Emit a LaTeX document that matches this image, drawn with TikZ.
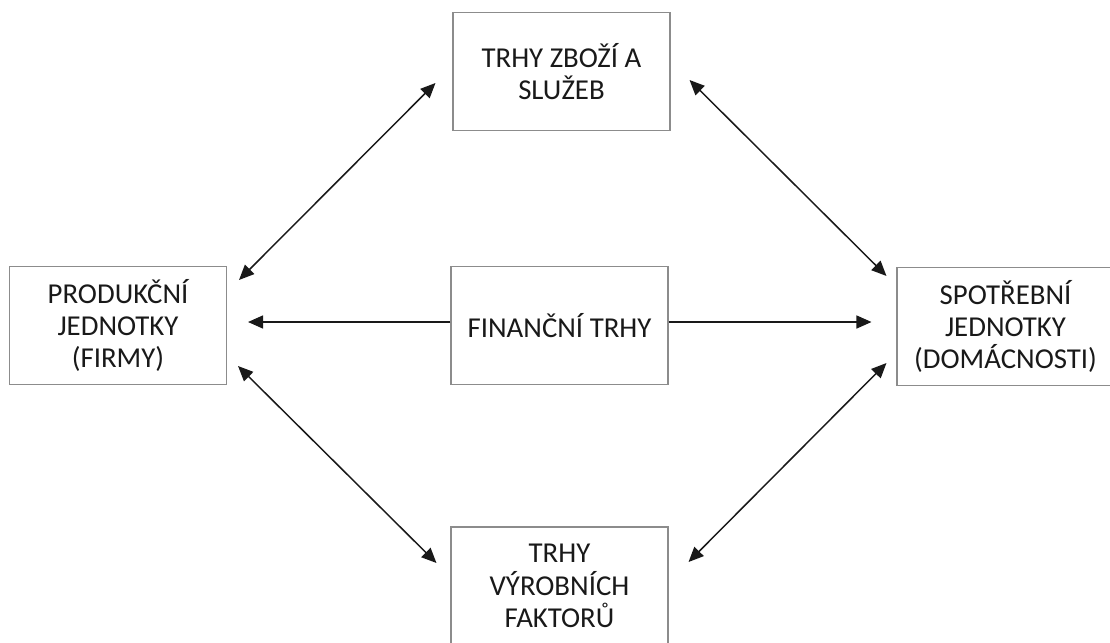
\documentclass[tikz,border=0pt]{standalone}
\usepackage{fontspec}
\setmainfont{Carlito}
\usetikzlibrary{arrows.meta,positioning}

\begin{document}
\begin{tikzpicture}[font=\fontsize{16.4}{18.4}\selectfont,
  market/.style={draw=black!45, line width=.6pt, align=center, text=black!90,
    minimum width=4.34cm, minimum height=2.36cm, inner sep=4pt},
  flow/.style={{Triangle[length=3mm,width=2.6mm]}-{Triangle[length=3mm,width=2.6mm]},
    line width=.85pt, draw=black!90},
  oneway/.style={-{Triangle[length=3mm,width=2.6mm]}, line width=.85pt, draw=black!90}]
  \useasboundingbox (0,0) rectangle (22.2,-12.84);

  \node[market] (zbozi) at (11.23,-1.43) {TRHY ZBOŽÍ A\\SLUŽEB};
  \node[market] (firmy) at (2.36,-6.51) {PRODUKČNÍ\\JEDNOTKY\\(FIRMY)};
  \node[market] (finance) at (11.19,-6.51) {FINANČNÍ TRHY};
  \node[market] (domacnosti) at (20.11,-6.53) {SPOTŘEBNÍ\\JEDNOTKY\\(DOMÁCNOSTI)};
  \node[market] (faktory) at (11.19,-11.72) {TRHY\\VÝROBNÍCH\\FAKTORŮ};

  \draw[flow] ([shift={(0.24,-0.28)}]firmy.north east) --
    ([shift={(-0.34,-0.23)}]zbozi.west);
  \draw[flow] ([shift={(0.38,-0.17)}]zbozi.east) --
    ([shift={(-0.20,-0.18)}]domacnosti.north west);
  \draw[flow] ([shift={(0.22,0.38)}]firmy.south east) --
    ([shift={(-0.28,0.46)}]faktory.west);
  \draw[flow] ([shift={(0.40,0.48)}]faktory.east) --
    ([shift={(-0.20,0.46)}]domacnosti.south west);

  \draw[oneway] ([yshift=0.07cm]finance.west) -- ([shift={(0.42,0.07)}]firmy.east);
  \draw[oneway] ([yshift=0.07cm]finance.east) -- ([shift={(-0.50,0.07)}]finance.east -| domacnosti.west);
\end{tikzpicture}
\end{document}
